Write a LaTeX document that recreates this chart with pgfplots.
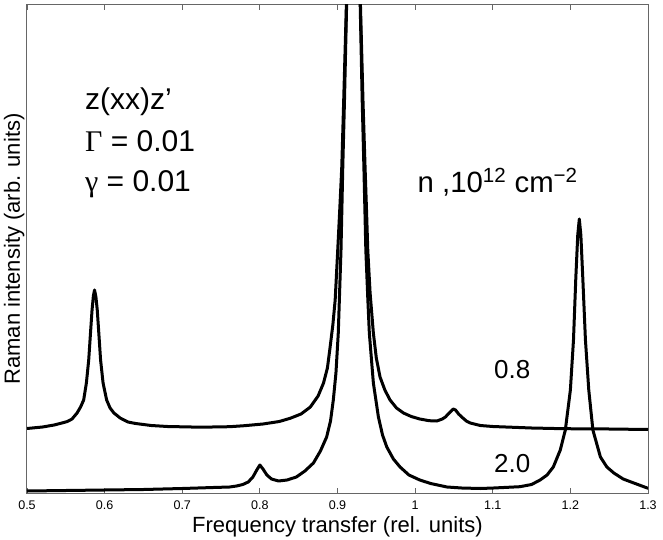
\documentclass[border=0pt]{standalone}
\usepackage{fontspec}
\setmainfont{Liberation Sans}
\newfontfamily\grk{Liberation Serif}
\usepackage{pgfplots}
\pgfplotsset{compat=1.18}
\begin{document}
\begin{tikzpicture}
\begin{axis}[
  name=ax,
  scale only axis,
  width=465.75pt, height=366pt,
  xmin=0.5, xmax=1.3, ymin=0, ymax=488,
  xtick={0.5,0.6,0.7,0.8,0.9,1.0,1.1,1.2,1.3},
  ytick=\empty,
  /pgf/number format/assume math mode=true,
  tick label style={font=\fontsize{9.4}{11}\selectfont},
  xticklabel style={anchor=base, yshift=-12.4pt, inner sep=0pt},
  axis line style={black!60, line width=0.75pt},
  tick style={black!60, line width=0.6pt},
  major tick length=3.75pt,
  xlabel={Frequency transfer (rel. units)},
  ylabel={Raman intensity (arb. units)},
  label style={font=\fontsize{16.5}{18}\selectfont},
  xlabel style={at={(axis description cs:0.5,0)}, anchor=base, yshift=-29.5pt, inner sep=0pt},
  ylabel style={at={(axis description cs:-0.0113,0.5)}, anchor=base, inner sep=0pt},
]
\addplot[black, line width=2.25pt, line join=round, no markers] coordinates {
(0.500,64.5) (0.520,66) (0.535,68) (0.545,70) (0.552,71.5) (0.558,74)
(0.5645,80) (0.569,86) (0.573,93) (0.5765,110) (0.5795,133) (0.5818,160)
(0.5838,183) (0.5855,197) (0.5870,203) (0.5888,196) (0.5905,183) (0.5925,160)
(0.5948,133) (0.5980,110) (0.6026,93) (0.6070,85) (0.6120,80) (0.6200,75)
(0.6300,71) (0.6400,69.5) (0.6600,67.5) (0.6810,66.5) (0.7240,65.8) (0.7610,66.3)
(0.7800,67.3) (0.8040,69) (0.8250,71.5) (0.8390,74.7) (0.8530,79) (0.8650,86)
(0.8750,97) (0.8820,110) (0.8870,125) (0.8900,143) (0.8940,168) (0.8970,193)
(0.9003,243) (0.9030,285) (0.9055,326) (0.9080,393) (0.9115,490) (0.9160,600)
(0.9205,700) (0.9250,600) (0.9295,490) (0.9328,393) (0.9355,326) (0.9375,280)
(0.9390,243) (0.9420,200) (0.9462,160) (0.9500,135) (0.9548,116) (0.9610,103)
(0.9677,93) (0.9760,85) (0.9850,80) (0.9950,76.5) (1.0060,74) (1.0180,72.3)
(1.0280,72) (1.0350,74) (1.0390,76) (1.0440,80) (1.0490,84) (1.0520,83)
(1.0560,79) (1.0600,76) (1.0660,72) (1.0710,70) (1.0840,67.5) (1.1000,66.5)
(1.1500,65) (1.1910,64.3) (1.2500,64) (1.3000,63.5)
};
\addplot[black, line width=2.25pt, line join=round, no markers] coordinates {
(0.500,2) (0.550,2.5) (0.600,3) (0.650,3.5) (0.700,4.5) (0.740,5.5)
(0.761,6) (0.770,7) (0.778,8.5) (0.785,11) (0.791,16) (0.796,23)
(0.800,28) (0.804,24) (0.809,18) (0.815,14) (0.824,12) (0.835,13)
(0.847,16) (0.858,22) (0.869,30) (0.878,42) (0.886,56) (0.8910,72)
(0.8946,93) (0.8980,120) (0.9010,160) (0.9045,243) (0.9068,326) (0.9090,393)
(0.9118,490) (0.9160,600) (0.9205,700) (0.9250,600) (0.9292,490) (0.9318,393)
(0.9340,326) (0.9365,243) (0.9390,195) (0.9410,160) (0.9462,110) (0.9527,76)
(0.9580,58) (0.9635,46) (0.9720,34) (0.9806,26) (0.9920,18) (1.0060,13)
(1.0200,9.5) (1.0410,6) (1.0600,5) (1.0840,4.5) (1.1010,5) (1.1350,6.3)
(1.1500,8.5) (1.1610,13) (1.1700,18) (1.1780,26) (1.1870,43) (1.1935,63)
(1.2000,103) (1.2040,153) (1.2070,215) (1.2095,258) (1.2115,274) (1.2135,258)
(1.2160,215) (1.2194,153) (1.2237,103) (1.2290,63) (1.2387,36) (1.2470,26)
(1.2560,20) (1.2680,14) (1.2817,10) (1.2990,5) (1.3000,5)
};
\node[anchor=base west, inner sep=0pt, font=\fontsize{22.5}{26}\selectfont] at (axis cs:0.5745,383) {z(xx)z’};
\node[anchor=base west, inner sep=0pt, font=\fontsize{22.5}{26}\selectfont] at (axis cs:0.5745,341) {{\grk Γ} = 0.01};
\node[anchor=base west, inner sep=0pt, font=\fontsize{22.5}{26}\selectfont] at (axis cs:0.5745,301) {{\grk γ} = 0.01};
\node[anchor=base west, inner sep=0pt, font=\fontsize{22}{26}\selectfont] at (axis cs:1.0030,300) {n ,10\textsuperscript{12} cm\textsuperscript{−2}};
\node[anchor=base, inner sep=0pt, font=\fontsize{19.5}{22}\selectfont] at (axis cs:1.1252,115) {0.8};
\node[anchor=base, inner sep=0pt, font=\fontsize{19.5}{22}\selectfont] at (axis cs:1.1252,21) {2.0};
\end{axis}
\path (ax.south west) +(-20.25pt,-34.5pt);
\path (ax.north east) +(11.25pt,3.75pt);
\end{tikzpicture}
\end{document}
